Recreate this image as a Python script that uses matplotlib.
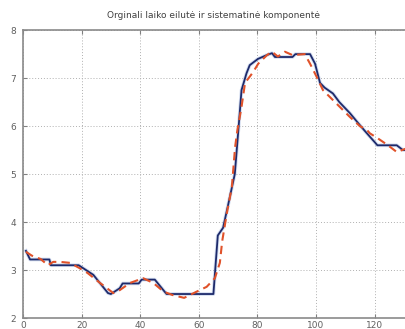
import numpy as np
import matplotlib
matplotlib.use('Agg')
import matplotlib.pyplot as plt

# Original time series (stepwise) and its systematic component (dashed)
orig_t = [1, 2.4, 9, 9.5, 19, 24, 29, 30, 33, 34, 39.5, 40.5, 45, 49, 65, 66.5,
          68.3, 70, 72.3, 73.5, 74.6, 76.3, 77.4, 80.2, 83.2, 85, 86, 92, 93, 98,
          99.7, 101.4, 103, 105.8, 108, 111.6, 115, 117.4, 120, 121, 127.6, 129.7, 132]
orig_y = [3.4, 3.22, 3.22, 3.1, 3.1, 2.9, 2.52, 2.5, 2.62, 2.72, 2.72, 2.8, 2.8, 2.5,
          2.5, 3.72, 3.88, 4.35, 5.0, 5.9, 6.75, 7.1, 7.27, 7.4, 7.48, 7.52, 7.44,
          7.44, 7.5, 7.5, 7.3, 6.9, 6.8, 6.68, 6.5, 6.27, 6.02, 5.85, 5.67, 5.6, 5.6,
          5.5, 5.5]

sys_t = [1, 3, 6, 8.5, 10.3, 12.6, 16, 19, 22, 26.3, 28.7, 30.8, 33, 36.5, 41, 44.5,
         48, 51, 55, 59.3, 62.7, 65.5, 67.2, 68, 69.6, 71.3, 72.4, 73.2, 74.6, 75.8,
         78.5, 80.3, 83.3, 85, 87, 89.4, 92, 96.2, 98, 100.3, 102.4, 107, 111.6, 115,
         117.4, 118.4, 121, 124.6, 127.6, 129.4, 132]
sys_y = [3.38, 3.3, 3.23, 3.1, 3.17, 3.17, 3.15, 3.05, 2.94, 2.73, 2.62, 2.52, 2.58,
         2.73, 2.83, 2.73, 2.55, 2.48, 2.42, 2.55, 2.65, 2.83, 3.15, 3.6, 4.19, 4.73,
         5.56, 5.92, 6.4, 6.9, 7.12, 7.3, 7.48, 7.55, 7.45, 7.55, 7.48, 7.5, 7.3, 7.02,
         6.75, 6.47, 6.19, 6.0, 5.92, 5.85, 5.75, 5.6, 5.46, 5.5, 5.56]

x_ticks = [0, 20, 40, 60, 80, 100, 120]
y_ticks = [2, 3, 4, 5, 6, 7, 8]

fig = plt.figure(figsize=(4.06, 3.29), dpi=100)
ax = fig.add_axes([0.0567, 0.0334, 1.01, 0.875])

# soft halo under the main series, then the series itself
ax.plot(orig_t, orig_y, color='#9fb3dd', lw=2.6, alpha=0.45)
ax.plot(orig_t, orig_y, color='#1d2a6b', lw=1.3)
ax.plot(sys_t, sys_y, color='#e0522a', lw=1.5, linestyle=(0, (4, 2.5)))

ax.set_xlim(0, 140)
ax.set_ylim(2, 8)
ax.set_xticks(x_ticks)
ax.set_yticks(y_ticks)
ax.grid(True, color='#b0b0b0', linestyle=(0, (1, 2)), lw=0.7)
ax.tick_params(direction='in', length=3, width=0.8, color='#808080',
               labelsize=6.5, labelcolor='#606060', top=True, right=True)
ax.tick_params(axis='y', pad=5)
ax.tick_params(axis='x', pad=2)
for sp in ax.spines.values():
    sp.set_color('#8a8a8a')
    sp.set_linewidth(1.2)

fig.text(214 / 406, 1 - 16 / 329, 'Orginali laiko eilutė ir sistematinė komponentė',
         ha='center', va='center', fontsize=6.5, color='#404040')

fig.savefig('out.png', dpi=100)
